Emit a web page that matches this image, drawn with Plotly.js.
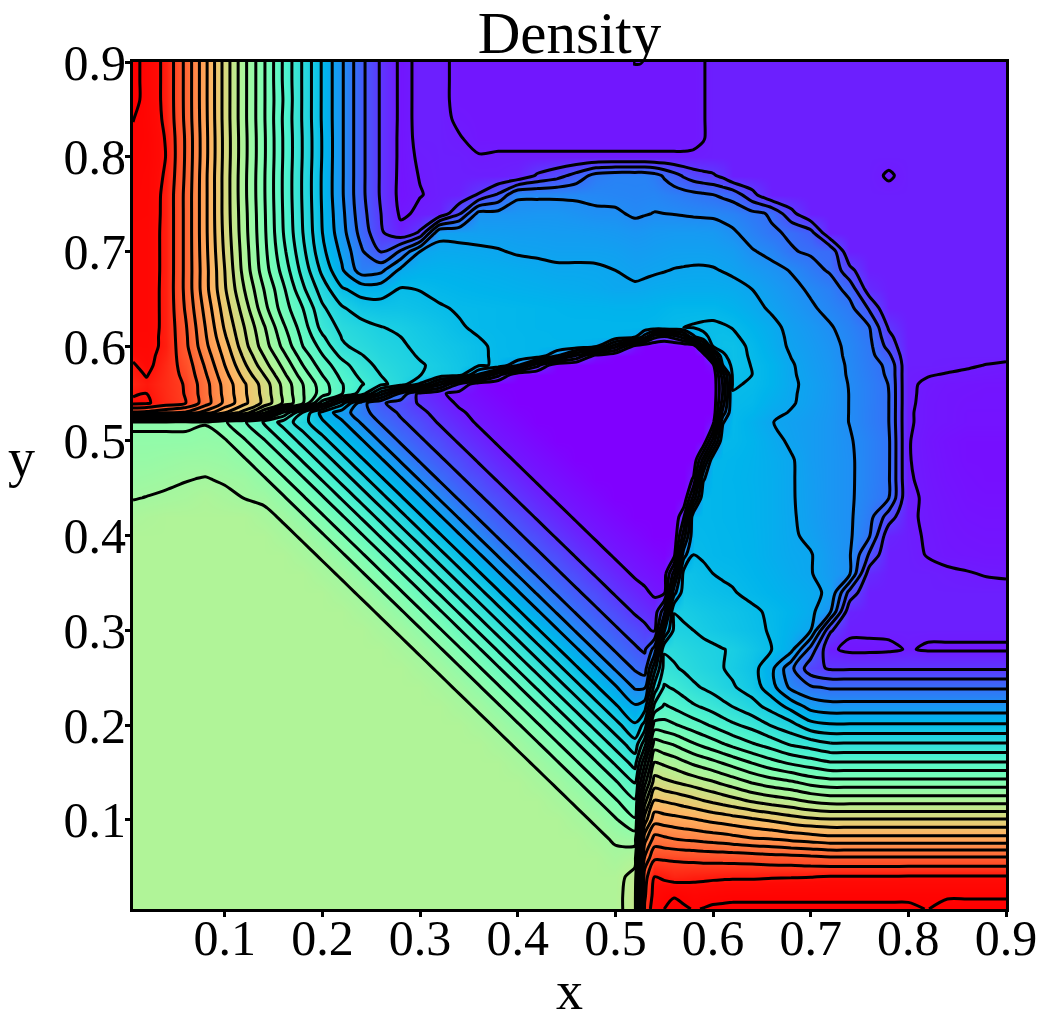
<!DOCTYPE html>
<html>
<head>
<meta charset="utf-8">
<script src="https://cdn.plot.ly/plotly-3.0.1.min.js"></script>
<style>
html,body{margin:0;padding:0;background:#fff}
#chart{width:1044px;height:1030px}
</style>
</head>
<body>
<div id="chart"></div>
<script>
// grid positions, finer around the contact and the shock
const xs = [0.006,0.02,0.04,0.06,0.08,0.1,0.12,0.14,0.16,0.18,0.2,0.22,0.24,0.26,0.28,0.3,0.32,0.34,0.36,0.38,0.4,0.42,0.44,0.46,0.48,0.5,0.52,0.53,0.54,0.55,0.56,0.57,0.58,0.59,0.6,0.61,0.62,0.64,0.66,0.68,0.7,0.72,0.74,0.76,0.78,0.8,0.82,0.84,0.86,0.88,0.9];
const ys = [0.006,0.02,0.04,0.06,0.08,0.1,0.12,0.14,0.16,0.18,0.2,0.22,0.24,0.26,0.28,0.3,0.32,0.34,0.36,0.38,0.4,0.42,0.44,0.46,0.48,0.5,0.52,0.53,0.54,0.55,0.56,0.57,0.58,0.59,0.6,0.61,0.62,0.64,0.66,0.68,0.7,0.72,0.74,0.76,0.78,0.8,0.82,0.84,0.86,0.88,0.9];

// density, one row per y (arbitrary units, bottom row first)
const row006 = [66,66,66,66,66,66,66,66,66,66, 66,66,66,66,66,66,66,66,66,66, 66,66,66,66,66,66, 70,100,106,107.5,108.5,108,107.3,107.6,108,108,108, 108,108,108,108,108,108,108,108,108,107.4,109,109,109,109];
const row02 = [66,66,66,66,66,66,66,66,66,66, 66,66,66,66,66,66,66,66,66,66, 66,66,66,66,66,66, 70,99,105,106.5,107.3,106.6,106,106.3,106.5,106.8,107, 107,107,107,107,107,107,107,107,107,107,107,107,107,107];
const row04 = [66,66,66,66,66,66,66,66,66,66, 66,66,66,66,66,66,66,66,66,66, 66,66,66,66,66,66, 69,98,103.5,102.8,102,102.2,102.5,102.6,102.8,102.9,103, 103,103.2,103.3,103.4,103.7,103.7,103.7,103.7,103.8,103.8,103.8,103.8,103.8,103.8];
const row06 = [66,66,66,66,66,66,66,66,66,66, 66,66,66,66,66,66,66,66,66,66, 66,66,66,66,66,64.5, 66,92,99,99,98.9,98.7,98.5,98.3,98.2,98.1,98, 97.8,97.2,97,96.5,96,96,96,96,96,96,96,96,96,96];
const row08 = [66,66,66,66,66,66,66,66,66,66, 66,66,66,66,66,66,66,66,66,66, 66,66,66,66,64.5,63, 62,86,93,92.3,91.5,91,90.7,90.3,89.9,89.5,89, 87.9,87.5,86.5,85.8,85,85,85,85,85,85,85,85,85,85];
const row10 = [66,66,66,66,66,66,66,66,66,66, 66,66,66,66,66,66,66,66,66,66, 66,66,66,64.5,63,60, 56,77.5,86,85.5,85,84.5,83.9,83.2,82.5,82,81.4, 80.2,78.9,77.5,76.5,76,76,76,76,76,76,76,76,76,76];
const row12 = [66,66,66,66,66,66,66,66,66,66, 66,66,66,66,66,66,66,66,66,66, 66,66,64.5,63,60,56, 52,70,80,79.2,78.5,77.6,76.7,75.7,74.8,73.9,73, 71.1,69.7,68.5,67,66,66,66,66,66,66,66,66,66,66];
const row14 = [66,66,66,66,66,66,66,66,66,66, 66,66,66,66,66,66,66,66,66,66, 66,64.5,63,60,56,52, 47,62,73.3,72.4,71.5,70.6,69.7,68.7,67.8,66.6,65.5, 63.1,61.3,60,58,57,57,57,57,57,57,57,57,57,57];
const row16 = [66,66,66,66,66,66,66,66,66,66, 66,66,66,66,66,66,66,66,66,66, 64.5,63,60,56,52,47, 42,55,68,66.8,65.7,64.3,62.9,61.8,60.7,59.4,58.1, 55.5,53,51,49.5,48,48,48,48,48,48,48,48,48,48];
const row18 = [66,66,66,66,66,66,66,66,66,66, 66,66,66,66,66,66,66,66,66,64.5, 63,60,56,52,47,42, 37,46,61.5,60.3,59.2,57.5,55.9,54.5,53.2,51.8,50.4, 47.9,45.7,43,41.6,40,40,40,40,40,40,40,40,40,40];
const row20 = [66,66,66,66,66,66,66,66,66,66, 66,66,66,66,66,66,66,66,64.5,63, 60,56,52,47,42,37, 32,37,53.5,53,52,50.7,49.5,48.2,46.9,45.5,44.2, 42.2,39.2,36.9,33,32,32,32,32,32,32,32,32,32,32];
const row22 = [66,66,66,66,66,66,66,66,66,66, 66,66,66,66,66,66,66,64.5,63,60, 56,52,47,42,37,32, 28,29.5,44.5,48,46.8,45.4,44,43,41.9,40.6,39.4, 36.9,34,30,26,25,25,25,25,25,25,25,25,25,25];
const row24 = [66,66,66,66,66,66,66,66,66,66, 66,66,66,66,66,66,64.5,63,60,56, 52,47,42,37,32,28, 23,23,37,44,43,41.6,40.2,39.2,38.2,37,35.9, 33.8,29,22.5,20,19,19,19,19,19,19,19,19,19,19];
const row26 = [66,66,66,66,66,66,66,66,66,66, 66,66,66,66,66,64.5,63,60,56,52, 47,42,37,32,28,23, 19,17.5,30,41,40,39,38,37.2,36.5,35.6,34.8, 33,28.5,20.5,13,11,11,11,11,11,11,11,11,11,11];
const row28 = [66,66,66,66,66,66,66,66,66,66, 66,66,66,66,64.5,63,60,56,52,47, 42,37,32,28,23,19, 16,15,21,39,38.5,37.7,37,36.5,36.1,35.6,35.2, 33.5,31.5,28.7,18,8,6.8,6.8,7,7.7,7.2,7.2,7.2,7.2,7.2];
const row30 = [66,66,66,66,66,66,66,66,66,66, 66,66,66,64.5,63,60,56,52,47,42, 37,32,28,23,19,16, 14,12.5,11,27,36.3,35.9,35.5,34.8,34.2,33.7,33.2, 32.3,31.2,29.5,27.5,12,8,8,8,8,8,8,8,8,8];
const row32 = [66,66,66,66,66,66,66,66,66,66, 66,66,64.5,63,60,56,52,47,42,37, 32,28,23,19,16,14, 11,10,9,18,35.4,35,34.5,34,33.6,33.2,32.9, 32,31,30,28.5,24,8.5,8,8,8,8,8,8,8,8];
const row34 = [66,66,66,66,66,66,66,66,66,66, 66,64.5,63,60,56,52,47,42,37,32, 28,23,19,16,14,11, 9,8,7,6.5,26,33.5,33,32.7,32.4,32,31.7, 30.8,30,29.2,28.4,26.8,14,8,8,8,8,8,8,8,8];
const row36 = [66,66,66,66,66,66,66,66,66,66, 64.5,63,60,56,52,47,42,37,32,28, 23,19,16,14,11,9, 7,6.5,6,5.5,17,33,32.5,32,31.5,31.2,31, 30.3,29.5,28.5,27.7,25.8,23.9,9.5,8,8,8,7.8,7.6,7.4,7.3];
const row38 = [66,66,66,66,66,66,66,66,66,64.5, 63,60,56,52,47,42,37,32,28,23, 19,16,14,11,9,7, 6,5.5,5,4.5,6,26,31.5,31.2,30.8,30.6,30.5, 30,29,28.2,27.7,25.6,23.8,15,8,8,7.4,7,6.9,6.8,6.8];
const row40 = [66,66,66,66,66,66,66,66,64.5,63, 60,56,52,47,42,37,32,28,23,19, 16,14,11,9,7,6, 5,4.5,4,4,4,17.5,31,30.9,30.7,30.5,30.4, 29.9,29,28,26.8,25.2,24,19.9,8.7,7.9,7.3,6.9,6.7,6.6,6.6];
const row42 = [65,65.5,66,66,66,66,66,64.5,63,60, 56,52,47,42,37,32,28,23,19,16, 14,11,9,7,6,5, 4,4,4,4,4,11,30.8,30.7,30.6,30.4,30.3, 29.8,29,27.9,26.4,25,24,21,13.5,7.8,7.2,6.8,6.5,6.4,6.4];
const row44 = [63.3,63.6,64,64.5,65.5,64.5,63.4,62.8,60,56, 52,47,42,37,32,28,23,19,16,14, 11,9,7,6,5,4, 4,4,4,4,4,4,17,30.7,30.6,30.4,30.3, 29.8,29,27.8,26.3,25,24,21.8,19.6,8,7.1,6.7,6.3,6.2,6.2];
const row46 = [62,62.3,62.8,63.3,63.7,63,62.5,60,56,52, 47,42,37,32,28,23,19,16,14,11, 9,7,6,5,4,4, 4,4,4,4,4,4,8,27,30.6,30.4,30.2, 29.7,29,27.8,26.2,25,24,22,19.9,7.7,7,6.5,6.2,6,6];
const row48 = [61,61,61.5,62,62,61.5,60,56,52,47, 42,37,32,28,23,19,16,14,11,9, 7,6,5,4,4,4, 4,4,4,4,4,4,4,17,30.7,30.5,30.3, 29.8,28.9,27.8,26,25,24,22,20,7.6,6.9,6.4,6,6,6];
const row50 = [60,60,60,60,60.5,60,56,52,47,42, 37,32,28,23,19,16,14,11,9,7, 6,5,4,4,4,4, 4,4,4,4,4,4,4,4,17,30.9,30.8, 30,28.5,27,26,25,23.8,22,20,7.6,6.8,6.3,6,6,6];
const row52 = [59,59,59,59,59.3,56,52,47,42,37, 32,28,23,19,16,14,11,9,7,6, 5,4,4,4,4,4, 4,4,4,4,4,4,4,4,6,27,31, 29.5,27.6,26.7,26,25,23.4,21.4,19.5,7.7,7,6.8,6.5,6.5,6.5];
const row53 = [95,94.5,92.6,91,86,79.7,74,64.8,51,39, 30,25.5,21,17.5,15,12.5,10,8,6.5,5.5, 4.5,4,4,4,4,4, 4,4,4,4,4,4,4,4,4,21,31, 30.2,28.3,27.3,26.2,25.1,23.4,21.4,19.5,7.7,7,6.8,6.5,6.5,6.5];
const row54 = [104.5,104,101.5,99.5,93.5,86.5,80.5,74.5,67,60, 45.4,33,21,16,14,11,9,7,6,5, 4,4,4,4,4,4, 4,4,4,4,4,4,4,4,4,17.5,31.2, 30.8,29,27.8,26.5,25.2,23.4,21.5,19.5,7.8,7,6.8,6.6,6.6,6.6];
const row55 = [103,103.5,101.3,99.3,93.2,86.3,80.2,74.2,66.7,59.8, 53.5,47.8,41.8,29.3,18.5,10,8,6.5,5.5,4.5, 4,4,4,4,4,4, 4,4,4,4,4,4,4,4,4,15.8,31.4, 31,29.5,27.9,26.6,25.2,23.4,21.5,19.5,7.8,7.1,6.8,6.7,6.6,6.6];
const row56 = [102,103,101.2,99.2,93,86,80,73.8,66.3,59.5, 53.3,47.7,43.9,40.4,37.8,31,20.7,10.7,5,4, 4,4,4,4,4,4, 4,4,4,4,4,4,4,4,4,15.8,31.7, 31.3,30,28,26.7,25.3,23.3,21.5,19.4,7.8,7.2,6.9,6.8,6.7,6.7];
const row57 = [102.6,103.7,101.3,98.6,92,84.8,78,71.5,64.4,57.5, 51.4,46.3,42.4,39.4,37.4,35.6,34.6,33.6,23,13, 4,4,4,4,4,4, 4,4,4,4,4,4,4,4,4,18,32, 31.5,30,27.9,26.4,25.1,23.1,21.2,19,7.9,7.6,7.4,7.2,7.1,7];
const row58 = [103.2,104.5,101.5,98,91,83.5,76.2,69.2,62.5,55.5, 49.5,45,41,38.5,37,35.8,34.7,33.5,32,31, 24,12.8,4,4,4,4, 4,4,4,4,4,4,4,4,6,27.5,32.5, 31.4,30,27.8,26.2,25,23,21,18.7,8,8,7.9,7.7,7.45,7.2];
const row59 = [104.1,104.7,102,97.2,89.8,82.4,74.6,67.4,60.5,53.5, 47.7,42.5,39.7,37.7,36.5,35.2,34.2,33.2,32,31, 30.7,30.5,24,15,6,4, 4,4,4,4,4,4,4,4,18,31,32.5, 31.2,29.5,27.4,26,24.7,22.8,20.8,16.4,8,8,8,8,8,8];
const row60 = [105,105,102.5,96.4,88.6,81.3,73,65.5,58.5,51.5, 46,40,38.5,37,36,34.7,33.8,33,32,30.9, 30.7,30.5,30.5,30.5,28.3,17, 6,4,4,4,4,4,4,18,31.8,32.3,32.5, 31,29,27,25.8,24.5,22.7,20.6,14,8,8,8,8,8,8];
const row61 = [105.2,105.2,102.4,96.2,88,80,72.2,64.8,57.4,50.5, 44,39.3,37.8,36.3,35.5,34.4,33.4,32.4,31.5,30.9, 30.7,30.5,30.4,30.4,30.4,30.4, 28.3,21.7,12.8,10.7,13,17.6,26.7,31,32,32.2,32, 30.5,28.8,26.8,25.5,24.2,22.4,20.2,12.5,8,8,8,8,8,8];
const row62 = [105.5,105.5,102.4,95.9,87.5,79,71.5,64,56.2,49.5, 42,38.5,37,35.6,35,34,33,31.8,31,30.8, 30.6,30.4,30.4,30.4,30.4,30.4, 30.4,30.4,30.6,31,31.3,31.5,31.7,31.9,32,31.8,31.4, 30,28.5,26.5,25.2,23.8,22,19.7,11,8,8,8,8,8,8];
const row64 = [105.5,105.5,102.4,95,86.3,77.5,69.5,61,53.5,47.5, 40.2,36,33.5,33,33,32.5,31.8,31.2,31,30.8, 30.6,30.4,30.2,30,30,29.8, 29.8,29.9,30,30.3,30.6,30.6,30.6,30.6,30.6,30.2,29.8, 28.6,27,25.5,24,22.5,20.8,15,8,8,8,8,8,8,8];
const row66 = [105.5,105.5,102.4,94.5,85,76,67.5,59.5,52.2,44.3, 37.5,32,30,30,31.8,31.4,30.7,30.3,30,29.8, 29.5,29.3,29,28.8,28.5,28, 28,28.2,28.5,28.6,28.7,28.8,28.8,28.8,28.8,28.7,28.5, 27.5,26,24.5,23,21.5,18,9.5,8,8,8,8,8,8,8];
const row68 = [105.5,105.5,102.5,94.5,85,75.5,66,57.5,50,42, 34.5,28,21.5,22.5,28.5,29.5,29.7,29.5,29.2,29, 28.7,28.4,28,28,27.9,27.5, 26.8,27,27.2,27.4,27.6,27.7,27.8,27.8,27.7,27.4,27, 25.8,24.6,23.3,21,19,12.7,8,8,8,8,8,8,8,8];
const row70 = [105.5,105.5,102.5,94.5,84.7,74.8,65.5,56.8,48.5,40.5, 32.5,26.5,20,15,20,27.5,28.3,28.2,28,27.7, 27.2,27,26.8,26.8,26.8,26.6, 26,26.1,26.3,26.5,26.7,26.7,26.7,26.7,26.6,26.3,26, 23.8,22.5,19.8,19,18.5,8,8,8,8,8,8,8,8,8];
const row72 = [105.5,105.5,102.5,94.5,84.5,74.3,65,56.4,47.5,39.5, 31.5,25,18,12,8.5,12,26.8,26.7,26.5,26.4, 26.2,26.2,26,26,25.8,25.5, 25,25.2,25.5,25.6,25.7,25.7,25.7,25.6,25.5,24.8,24, 22,20,19,16.8,8,8,8,8,8,8,8,8,8,8];
const row74 = [106,105.8,102.5,94.5,84.5,74,64.8,56.2,47.2,39.2, 31.2,24.5,17,11.5,7,8,8.5,15,24.8,24.8, 24.8,25,25,24.5,24,24, 23,23.3,23.6,23.5,23.4,23.2,23,22.9,22.8,22.4,22, 20.5,19,12.7,8,8,8,8,8,8,8,8,8,8,8];
const row76 = [106.3,106,102.5,94.5,84.5,74,64.5,56,47,39, 31,24,16.5,11,6.5,7.4,8,8.3,11.8,16, 23,23,23,23,22.8,22.5, 22.3,22.4,22.5,22,21.5,21,20.5,20,19.5,18.8,18, 12.7,8,8,8,8,8,8,8,8,8,8,8,8,8];
const row78 = [106.6,106,103,94.8,84.5,74,64.5,56,47,39, 31,24,16.5,11,6.6,7.6,8,8,8,8, 8.5,12,14,17,21,22, 22,22,21,19,17,15,13.4,12.6,12,10.5,8, 8,8,8,8,8,8,8,7.3,8,8,8,8,8,8];
const row80 = [106.8,106.3,103.4,95,84.8,74.2,64.7,56.2,47.2,39.2, 31.2,24,16.5,11,6.7,7.8,8,8,7.6,7.7, 7.7,7.7,7.7,7.7,7.7,7.7, 7.7,7.7,7.7,7.7,7.7,7.7,7.8,7.9,8,8,8, 8,8,8,8,8,8,8,8,8,8,8,8,8,8];
const row82 = [107,106.5,103.2,95,84.8,74.2,64.7,56.2,47.2,39.2, 31.2,24,16.5,11,6.7,8,8,7.6,7,7, 7,7,7,7,7,7, 7,7,7,7,7,7,7,7.4,8,8,8, 8,8,8,8,8,8,8,8,8,8,8,8,8,8];
const row84 = [107.6,106.2,102.7,94.6,84.6,74,64.5,56,47,39, 31,24,16.5,11,6.8,8,8,7.2,7,7, 7,7,7,7,7,7, 7,7,7,7,7,7,7,7.4,8,8,8, 8,8,8,8,8,8,8,8,8,8,8,8,8,8];
const row86 = [109,106,102.5,94.5,84.5,74,64.5,56,47.3,39, 31,24,16.5,11,6.8,8,8,7,7,7, 7,7,7,7,7,7, 7,7,7,7,7,7,7,7.4,8,8,8, 8,8,8,8,8,8,8,8,8,8,8,8,8,8];
const row88 = [109,106,102.5,94.5,84.5,74,64.5,56,47,39, 31,24,16.5,11,6.8,8,8,7,7,7, 7,7,7,7,7,7, 7,7,7,7,7,7,7,7.4,8,8,8, 8,8,8,8,8,8,8,8,8,8,8,8,8,8];
const row90 = [109,106,102.5,94.5,84.5,74,64.5,56,47,39, 31,24,16.5,11,6.8,8,8,7,7,7, 7,7,7,7,7,7, 7,7,7,7,7,7,7,7.4,8,8,8, 8,8,8,8,8,8,8,8,8,8,8,8,8,8];

const density = [row006,row02,row04,row06,row08,row10,row12,row14,row16,row18,row20,row22,row24,row26,row28,row30,row32,row34,row36,row38,row40,row42,row44,row46,row48,row50,row52,row53,row54,row55,row56,row57,row58,row59,row60,row61,row62,row64,row66,row68,row70,row72,row74,row76,row78,row80,row82,row84,row86,row88,row90];

const tickVals = [0.1,0.2,0.3,0.4,0.5,0.6,0.7,0.8,0.9];
const tickText = ['0.1','0.2','0.3','0.4','0.5','0.6','0.7','0.8','0.9'];

// rainbow
const rainbow = [
  [0,'rgb(128,0,255)'],[0.05,'rgb(102,40,254)'],[0.1,'rgb(77,79,252)'],[0.2,'rgb(26,150,243)'],
  [0.25,'rgb(0,180,236)'],[0.3,'rgb(26,206,227)'],[0.4,'rgb(77,243,206)'],[0.5,'rgb(128,255,180)'],
  [0.6,'rgb(179,243,150)'],[0.7,'rgb(230,206,116)'],[0.75,'rgb(255,180,98)'],[0.8,'rgb(255,150,79)'],
  [0.9,'rgb(255,79,40)'],[0.96,'rgb(255,10,5)'],[1,'rgb(255,0,0)']
];

const serif = 'Liberation Serif, Times New Roman, serif';

function axis(standoff){
  return {
    range:[0.006,0.9], tickmode:'array', tickvals:tickVals, ticktext:tickText,
    ticks:'outside', ticklen:5, tickwidth:3, tickcolor:'#000',
    showline:true, linewidth:3, linecolor:'#000', mirror:true,
    showgrid:false, zeroline:false, ticklabelstandoff:standoff,
    tickfont:{family:serif,size:50,color:'#000'}
  };
}

const trace = {
  type:'contour', x:xs, y:ys, z:density,
  zauto:false, zmin:4, zmax:108.5, autocontour:false,
  colorscale:rainbow, showscale:false, hoverinfo:'skip',
  contours:{coloring:'heatmap', start:7.5, end:107.5, size:4, showlines:true},
  line:{color:'#000', width:3, smoothing:0.85}
};

const xaxis = axis(-22);
xaxis.title = {text:'x', font:{family:serif,size:54,color:'#000'}, standoff:7};

const layout = {
  width:1044, height:1030,
  margin:{l:133,r:38,t:62,b:121},
  paper_bgcolor:'#fff', plot_bgcolor:'#fff',
  title:{text:'Density', font:{family:serif,size:59,color:'#000'}, x:0.5, xref:'paper', y:1, yref:'paper', yanchor:'bottom', pad:{b:9}},
  xaxis:xaxis, yaxis:axis(-11),
  annotations:[{text:'y', xref:'paper', yref:'paper', x:-0.128, y:0.533, xanchor:'center', yanchor:'middle', showarrow:false, font:{family:serif,size:54,color:'#000'}}]
};

Plotly.newPlot('chart',[trace],layout,{displayModeBar:false,staticPlot:true});
</script>
</body>
</html>
